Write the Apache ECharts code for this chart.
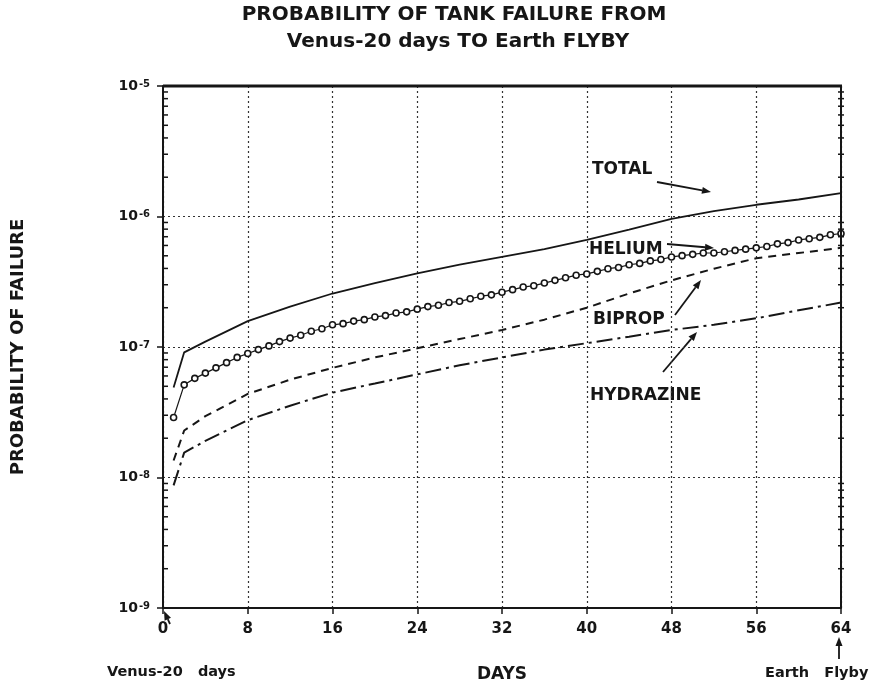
<!DOCTYPE html>
<html>
<head>
<meta charset="utf-8">
<script src="https://cdn.jsdelivr.net/npm/echarts@6/dist/echarts.min.js"></script>
<style>html,body{margin:0;padding:0;background:#fff;}#c{width:869px;height:688px;}</style>
</head>
<body>
<div id="c"></div>
<script>
// ---- data ----
const days = [1, 2, 4, 8, 12, 16, 20, 24, 28, 32, 36, 40, 44, 48, 52, 56, 60, 64];
const total = [4.9e-8, 9.1e-8, 1.10e-7, 1.58e-7, 2.04e-7, 2.57e-7, 3.09e-7, 3.67e-7, 4.27e-7, 4.90e-7, 5.62e-7, 6.61e-7, 7.94e-7, 9.60e-7, 1.10e-6, 1.23e-6, 1.35e-6, 1.51e-6];
const biprop = [1.35e-8, 2.29e-8, 2.95e-8, 4.37e-8, 5.62e-8, 6.92e-8, 8.32e-8, 9.77e-8, 1.15e-7, 1.35e-7, 1.62e-7, 2.00e-7, 2.57e-7, 3.24e-7, 3.98e-7, 4.79e-7, 5.25e-7, 5.75e-7];
const hydrazine = [8.7e-9, 1.55e-8, 1.91e-8, 2.75e-8, 3.55e-8, 4.47e-8, 5.25e-8, 6.17e-8, 7.24e-8, 8.32e-8, 9.55e-8, 1.07e-7, 1.20e-7, 1.35e-7, 1.48e-7, 1.66e-7, 1.91e-7, 2.19e-7];
const heliumDays = [1,2,3,4,5,6,7,8,9,10,11,12,13,14,15,16,17,18,19,20,21,22,23,24,25,26,27,28,29,30,31,32,33,34,35,36,37,38,39,40,41,42,43,44,45,46,47,48,49,50,51,52,53,54,55,56,57,58,59,60,61,62,63,64];
const helium = [2.88e-8,5.13e-8,5.75e-8,6.31e-8,6.92e-8,7.59e-8,8.32e-8,8.91e-8,9.55e-8,1.02e-7,1.10e-7,1.17e-7,1.23e-7,1.32e-7,1.38e-7,1.48e-7,1.51e-7,1.58e-7,1.62e-7,1.70e-7,1.74e-7,1.82e-7,1.86e-7,1.95e-7,2.04e-7,2.09e-7,2.19e-7,2.24e-7,2.34e-7,2.45e-7,2.51e-7,2.63e-7,2.75e-7,2.88e-7,2.95e-7,3.09e-7,3.24e-7,3.39e-7,3.55e-7,3.63e-7,3.80e-7,3.98e-7,4.07e-7,4.27e-7,4.37e-7,4.57e-7,4.68e-7,4.90e-7,5.01e-7,5.13e-7,5.25e-7,5.25e-7,5.37e-7,5.50e-7,5.62e-7,5.75e-7,5.89e-7,6.17e-7,6.31e-7,6.61e-7,6.76e-7,6.92e-7,7.24e-7,7.41e-7];
const xTicks = [0, 8, 16, 24, 32, 40, 48, 56, 64];
const yDecades = [-9, -8, -7, -6, -5];
const minorMultipliers = [2, 3, 4, 5, 6, 7, 8, 9];

// ---- build ----
const FONT = 'DejaVu Sans';
const INK = '#161616';
const pair = (xs, ys) => xs.map((x, i) => [x, ys[i]]);

const minorTicks = [];
yDecades.slice(0, -1).forEach(d => {
  minorMultipliers.forEach(m => {
    minorTicks.push([xTicks[0], m * Math.pow(10, d), 1]);
    minorTicks.push([xTicks[xTicks.length - 1], m * Math.pow(10, d), -1]);
  });
});

function arrow(x1, y1, x2, y2) {
  const a = Math.atan2(y2 - y1, x2 - x1), L = 9, W = 3.5;
  const bx = x2 - L * Math.cos(a), by = y2 - L * Math.sin(a);
  const nx = -Math.sin(a), ny = Math.cos(a);
  return [
    {type: 'line', shape: {x1, y1, x2: bx, y2: by}, style: {stroke: INK, lineWidth: 1.8}},
    {type: 'polygon', shape: {points: [[x2, y2], [bx + nx * W, by + ny * W], [bx - nx * W, by - ny * W]]}, style: {fill: INK}}
  ];
}
function label(text, x, y, size, align) {
  return {type: 'text', x, y, style: {text, font: 'bold ' + size + 'px "' + FONT + '"', fill: INK, textAlign: align || 'left', textVerticalAlign: 'middle'}};
}

const chart = echarts.init(document.getElementById('c'), null, {renderer: 'canvas'});
chart.setOption({
  backgroundColor: '#fff',
  animation: false,
  grid: {left: 163, right: 28, top: 86, bottom: 80, show: false, containLabel: false, outerBoundsMode: 'none'},
  xAxis: {
    type: 'value', min: 0, max: 64, interval: 8,
    name: 'DAYS', nameLocation: 'middle', nameGap: 58,
    nameTextStyle: {fontFamily: FONT, fontWeight: 'bold', fontSize: 17, color: INK},
    axisLine: {show: true, lineStyle: {color: INK, width: 2}},
    axisTick: {show: true, length: 6, lineStyle: {color: INK, width: 1.5}},
    axisLabel: {fontFamily: FONT, fontWeight: 'bold', fontSize: 15, color: INK, margin: 14},
    splitLine: {show: true, lineStyle: {color: '#333', width: 1.2, type: [2, 3]}}
  },
  yAxis: {
    type: 'log', logBase: 10, min: 1e-9, max: 1e-5,
    name: 'PROBABILITY OF FAILURE', nameLocation: 'middle', nameGap: 136, nameRotate: 90,
    nameTextStyle: {fontFamily: FONT, fontWeight: 'bold', fontSize: 18, color: INK},
    axisLine: {show: true, lineStyle: {color: INK, width: 2}},
    axisTick: {show: true, length: 6, lineStyle: {color: INK, width: 1.5}},
    axisLabel: {
      margin: 13,
      formatter: v => { const e = Math.round(Math.log10(v)); return '{a|10}{b|' + e + '}'; },
      rich: {
        a: {fontFamily: FONT, fontWeight: 'bold', fontSize: 14, color: INK},
        b: {fontFamily: FONT, fontWeight: 'bold', fontSize: 10, color: INK, verticalAlign: 'top', padding: [0, 0, 0, 1]}
      }
    },
    splitLine: {show: true, lineStyle: {color: '#333', width: 1.2, type: [2, 3]}}
  },
  series: [
    {name: 'TOTAL', type: 'line', data: pair(days, total), showSymbol: false, lineStyle: {color: INK, width: 1.8}},
    {name: 'HELIUM', type: 'line', data: pair(heliumDays, helium), symbol: 'circle', symbolSize: 6,
      itemStyle: {color: '#fff', borderColor: INK, borderWidth: 1.6}, lineStyle: {color: INK, width: 1.2}},
    {name: 'BIPROP', type: 'line', data: pair(days, biprop), showSymbol: false, lineStyle: {color: INK, width: 2, type: [8, 6]}},
    {name: 'HYDRAZINE', type: 'line', data: pair(days, hydrazine), showSymbol: false, lineStyle: {color: INK, width: 2, type: [16, 5, 3, 5]}},
    {name: 'frame', type: 'custom', silent: true, data: minorTicks, clip: false, z: 5,
      renderItem: (params, api) => {
        const p = api.coord([api.value(0), api.value(1)]);
        const dir = api.value(2);
        const x1 = dir > 0 ? p[0] : p[0] - 3, x2 = dir > 0 ? p[0] + 5 : p[0] + 3;
        return {type: 'line', shape: {x1, y1: p[1], x2, y2: p[1]}, style: {stroke: INK, lineWidth: 1.5}};
      }}
  ],
  graphic: [].concat(
    [
      label('PROBABILITY OF TANK FAILURE FROM', 454, 15, 20, 'center'),
      label('Venus-20 days TO Earth FLYBY', 458, 42, 20, 'center'),
      label('TOTAL', 592, 170, 17),
      label('HELIUM', 589, 250, 17),
      label('BIPROP', 593, 320, 17),
      label('HYDRAZINE', 590, 396, 17),
      label('Venus-20   days', 107, 672, 14.5),
      label('Earth   Flyby', 765, 673, 14.5),
      // frame: thick top and right border
      {type: 'line', shape: {x1: 163, y1: 86, x2: 842, y2: 86}, style: {stroke: INK, lineWidth: 3}, z: 10},
      {type: 'line', shape: {x1: 841, y1: 86, x2: 841, y2: 608}, style: {stroke: INK, lineWidth: 2}, z: 10}
    ],
    arrow(657, 182, 711, 192),
    arrow(667, 244, 714, 248),
    arrow(675, 315, 701, 280),
    arrow(663, 372, 697, 332),
    arrow(839, 659, 839, 637),
    arrow(170, 624, 164, 611)
  )
});
</script>
</body>
</html>
